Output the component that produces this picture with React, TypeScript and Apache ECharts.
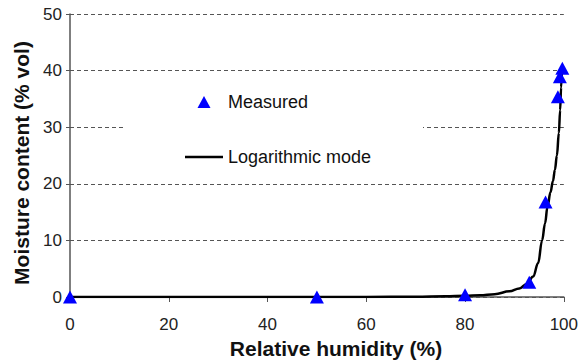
import React, { useEffect, useRef } from "react";
import * as echarts from "echarts";

const FONT = "'Liberation Sans', Arial, Helvetica, sans-serif";

// Measured points: relative humidity (%) and moisture content (% vol)
const measuredRH = [0, 50, 80, 93, 96.3, 98.8, 99.2, 99.7];
const measuredMC = [0, 0, 0.4, 2.6, 16.8, 35.4, 38.9, 40.4];

// Logarithmic model curve
const modelRH = [0, 60, 70, 76, 80, 83, 86, 89, 91, 92.5, 93.8, 94.8, 95.6, 96.2, 96.7, 97.3, 97.8, 98.2, 98.6, 99, 99.25, 99.45, 99.6];
const modelMC = [0, 0, 0.05, 0.12, 0.2, 0.3, 0.5, 1.0, 1.5, 2.3, 3.6, 6, 10, 13, 16, 18.5, 20.5, 22.5, 25, 29, 33, 37, 40];

const xTicks = [0, 20, 40, 60, 80, 100];
const yTicks = [0, 10, 20, 30, 40, 50];

const seriesNames = ["Measured", "Logarithmic mode"];
const xTitle = "Relative humidity (%)";
const yTitle = "Moisture content (% vol)";

export default function App() {
  const ref = useRef<HTMLDivElement>(null);
  useEffect(() => {
    if (!ref.current) return;
    const chart = echarts.init(ref.current, null, { renderer: "svg" });
    const axisColor = "#555";
    const labelColor = "#222";
    chart.setOption({
      animation: false,
      backgroundColor: "#fff",
      grid: { left: 70, right: 17, top: 14, bottom: 66 },
      xAxis: {
        type: "value",
        min: xTicks[0],
        max: xTicks[xTicks.length - 1],
        interval: 20,
        axisLine: { lineStyle: { color: axisColor, width: 1.5 } },
        axisTick: { show: true, length: 5, lineStyle: { color: axisColor } },
        axisLabel: { fontFamily: FONT, fontSize: 17, color: labelColor, margin: 19 },
        splitLine: { show: false },
      },
      yAxis: {
        type: "value",
        min: yTicks[0],
        max: yTicks[yTicks.length - 1],
        interval: 10,
        axisLine: { show: true, lineStyle: { color: axisColor, width: 1.5 } },
        axisTick: { show: true, length: 4, lineStyle: { color: axisColor } },
        axisLabel: { fontFamily: FONT, fontSize: 17, color: labelColor, margin: 8 },
        splitLine: { show: true, lineStyle: { color: "#555", width: 1, type: [4, 3] } },
      },
      legend: { show: false },
      graphic: [
        {
          type: "group",
          z: 10,
          children: [
            { type: "rect", shape: { x: 123, y: 77, width: 300, height: 101 }, style: { fill: "#fff" }, z: 10 },
            {
              type: "polygon",
              shape: { points: [[197.5, 108], [210.5, 108], [204, 96]] },
              style: { fill: "#0000ff" },
              z: 11,
            },
            {
              type: "text",
              x: 228,
              y: 102,
              z: 11,
              style: { text: seriesNames[0], font: `18px ${FONT}`, fill: "#111", textAlign: "left", textVerticalAlign: "middle" },
            },
            {
              type: "line",
              shape: { x1: 185, y1: 157, x2: 223, y2: 157 },
              style: { stroke: "#000", lineWidth: 2.5 },
              z: 11,
            },
            {
              type: "text",
              x: 228,
              y: 157,
              z: 11,
              style: { text: seriesNames[1], font: `18px ${FONT}`, fill: "#111", textAlign: "left", textVerticalAlign: "middle" },
            },
          ],
        },
        {
          type: "text",
          x: 336,
          y: 348,
          style: {
            text: xTitle,
            font: `bold 21px ${FONT}`,
            fill: "#111",
            textAlign: "center",
            textVerticalAlign: "middle",
          },
        },
        {
          type: "text",
          x: 21,
          y: 163,
          rotation: Math.PI / 2,
          style: {
            text: yTitle,
            font: `bold 21px ${FONT}`,
            fill: "#111",
            textAlign: "center",
            textVerticalAlign: "middle",
          },
        },
      ],
      series: [
        {
          name: seriesNames[1],
          type: "line",
          data: modelRH.map((x, i) => [x, modelMC[i]]),
          showSymbol: false,
          symbol: "none",
          smooth: 0.4,
          smoothMonotone: "x",
          lineStyle: { color: "#000", width: 2.5 },
          itemStyle: { color: "#000" },
          z: 3,
        },
        {
          name: seriesNames[0],
          type: "scatter",
          data: measuredRH.map((x, i) => [x, measuredMC[i]]),
          symbol: "triangle",
          symbolSize: [14, 13],
          itemStyle: { color: "#0000ff", opacity: 1 },
          z: 4,
        },
      ],
    });
    return () => chart.dispose();
  }, []);
  return (
    <div
      ref={ref}
      style={{ position: "fixed", left: 0, top: 0, width: 581, height: 363 }}
    />
  );
}
